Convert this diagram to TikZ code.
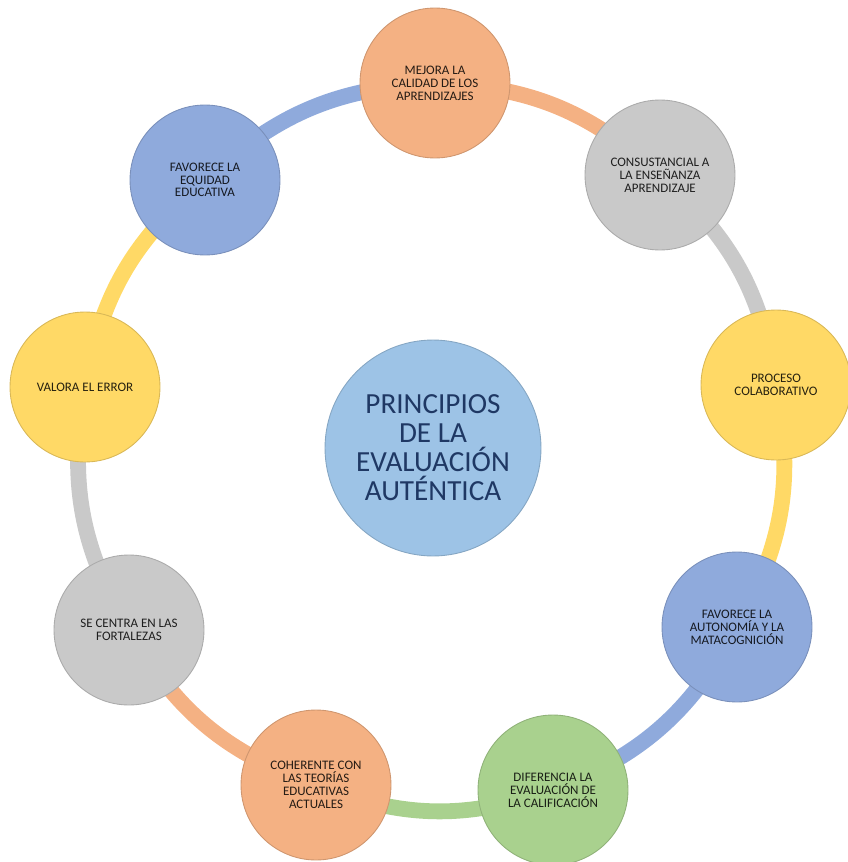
\documentclass[tikz,border=0pt]{standalone}
\usepackage{fontspec}
\setmainfont{Carlito}
\usetikzlibrary{backgrounds}
\definecolor{orangeF}{HTML}{F4B183}
\definecolor{grayF}{HTML}{C9C9C9}
\definecolor{blueF}{HTML}{8FAADC}
\definecolor{yellowF}{HTML}{FFD966}
\definecolor{greenF}{HTML}{A9D18E}
\definecolor{centerF}{HTML}{9DC3E6}
\definecolor{navyT}{HTML}{1F3864}
\begin{document}
\begin{tikzpicture}[x=0.02cm,y=-0.02cm,
        principle/.style={circle,draw,line width=0.5pt,minimum size=3cm,inner sep=0pt,
          align=center,font=\fontsize{7.4}{7.3}\selectfont},
        orange node/.style={principle,fill=orangeF,draw=orangeF!85!black,text=orangeF!15!black},
        gray node/.style={principle,fill=grayF,draw=grayF!85!black,text=grayF!15!black},
        blue node/.style={principle,fill=blueF,draw=blueF!85!black,text=blueF!15!black},
        yellow node/.style={principle,fill=yellowF,draw=yellowF!85!black,text=yellowF!15!black},
        green node/.style={principle,fill=greenF,draw=greenF!85!black,text=greenF!15!black},
        ring/.style={line width=9pt,bend left=20}]
      \useasboundingbox (0,0) rectangle (848,862);
      \node[principle,fill=centerF,draw=centerF!85!black,text=navyT,minimum size=4.32cm,
        font=\fontsize{16.6}{16.5}\selectfont] (principios) at (433,448)
        {PRINCIPIOS\\DE LA\\EVALUACIÓN\\AUTÉNTICA};
      \node[orange node] (mejora)     at (435,83)  {MEJORA LA\\CALIDAD DE LOS\\APRENDIZAJES};
      \node[gray node]   (consust)    at (660,175) {CONSUSTANCIAL A\\LA ENSEÑANZA\\APRENDIZAJE};
      \node[yellow node] (colab)      at (776,385) {PROCESO\\COLABORATIVO};
      \node[blue node]   (autonomia)  at (737,627) {FAVORECE LA\\AUTONOMÍA Y LA\\MATACOGNICIÓN};
      \node[green node]  (diferencia) at (553,790) {DIFERENCIA LA\\EVALUACIÓN DE\\LA CALIFICACIÓN};
      \node[orange node] (coherente)  at (316,785) {COHERENTE CON\\LAS TEORÍAS\\EDUCATIVAS\\ACTUALES};
      \node[gray node]   (fortalezas) at (129,630) {SE CENTRA EN LAS\\FORTALEZAS};
      \node[yellow node] (error)      at (85,387)  {VALORA EL ERROR};
      \node[blue node]   (equidad)    at (205,180) {FAVORECE LA\\EQUIDAD\\EDUCATIVA};
      % ring behind the circles
      \begin{scope}[on background layer]
        \draw[ring,orangeF] (mejora.center) to (consust.center);
        \draw[ring,grayF]   (consust.center) to (colab.center);
        \draw[ring,yellowF] (colab.center) to (autonomia.center);
        \draw[ring,blueF]   (autonomia.center) to (diferencia.center);
        \draw[ring,greenF]  (diferencia.center) to (coherente.center);
        \draw[ring,orangeF] (coherente.center) to (fortalezas.center);
        \draw[ring,grayF]   (fortalezas.center) to (error.center);
        \draw[ring,yellowF] (error.center) to (equidad.center);
        \draw[ring,blueF]   (equidad.center) to (mejora.center);
      \end{scope}
\end{tikzpicture}
\end{document}
